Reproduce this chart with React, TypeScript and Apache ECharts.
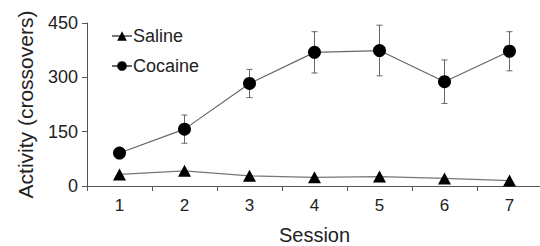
import React, { useEffect, useRef } from "react";
import * as echarts from "echarts";

const sessions = ["1", "2", "3", "4", "5", "6", "7"];
const salineValues = [32, 42, 28, 24, 26, 21, 15];
const cocaineValues = [91, 157, 283, 369, 374, 288, 372];
const cocaineErrors = [10, 39, 39, 57, 70, 60, 54];
const yTicks = [0, 150, 300, 450];

const FONT = "'Liberation Sans', Arial, sans-serif";
const TEXT = "#222";
const AXIS = "#555";

export default function App() {
  const ref = useRef<HTMLDivElement>(null);
  useEffect(() => {
    if (!ref.current) return;
    const chart = echarts.init(ref.current, null, { renderer: "svg" });
    const errData = cocaineValues.map((v, i) => [i, v, cocaineErrors[i]]);
    chart.setOption({
      animation: false,
      textStyle: { fontFamily: FONT },
      grid: {
        left: 87,
        top: 23,
        height: 163,
        width: 455,
        containLabel: false,
        outerBoundsMode: "none",
      },
      legend: {
        orient: "vertical",
        left: 106,
        top: 22,
        itemGap: 12,
        itemWidth: 20,
        itemHeight: 12,
        data: ["Saline", "Cocaine"],
        textStyle: { fontSize: 18, color: TEXT, fontFamily: FONT, padding: [0, 0, 0, -4] },
      },
      xAxis: {
        type: "category",
        data: sessions,
        boundaryGap: true,
        name: "Session",
        nameLocation: "middle",
        nameGap: 39,
        nameTextStyle: { fontSize: 20, color: TEXT, fontFamily: FONT },
        axisLine: { lineStyle: { color: AXIS, width: 1 } },
        axisTick: { show: true, length: 5, alignWithLabel: false, lineStyle: { color: AXIS } },
        axisLabel: { fontSize: 17, color: TEXT, margin: 11, fontFamily: FONT },
        splitLine: { show: false },
      },
      yAxis: {
        type: "value",
        min: yTicks[0],
        max: yTicks[yTicks.length - 1],
        interval: 150,
        name: "Activity (crossovers)",
        nameLocation: "middle",
        nameGap: 51,
        nameTextStyle: { fontSize: 21, color: TEXT, fontFamily: FONT },
        axisLine: { show: true, lineStyle: { color: AXIS, width: 1 } },
        axisTick: { show: true, length: 5, lineStyle: { color: AXIS } },
        axisLabel: { fontSize: 18, color: TEXT, margin: 9, fontFamily: FONT },
        splitLine: { show: false },
      },
      series: [
        {
          name: "Saline",
          type: "line",
          data: salineValues,
          symbol: "triangle",
          symbolSize: [13, 12],
          lineStyle: { color: "#777", width: 1.2 },
          itemStyle: { color: "#000" },
          z: 3,
        },
        {
          name: "Cocaine errors",
          type: "custom",
          data: errData,
          z: 1,
          renderItem: (params: any, api: any) => {
            const idx = api.value(0);
            const v = api.value(1);
            const e = api.value(2);
            const top = api.coord([idx, v + e]);
            const bot = api.coord([idx, v - e]);
            const cap = 3;
            const style = { stroke: "#666", lineWidth: 1 };
            return {
              type: "group",
              children: [
                { type: "line", shape: { x1: top[0], y1: top[1], x2: bot[0], y2: bot[1] }, style },
                { type: "line", shape: { x1: top[0] - cap, y1: top[1], x2: top[0] + cap, y2: top[1] }, style },
                { type: "line", shape: { x1: bot[0] - cap, y1: bot[1], x2: bot[0] + cap, y2: bot[1] }, style },
              ],
            };
          },
        },
        {
          name: "Cocaine",
          type: "line",
          data: cocaineValues,
          symbol: "circle",
          symbolSize: 13,
          lineStyle: { color: "#666", width: 1.2 },
          itemStyle: { color: "#000" },
          z: 3,
        },
      ],
    });
    return () => chart.dispose();
  }, []);
  return (
    <div
      ref={ref}
      style={{ position: "absolute", left: 0, top: 0, width: 540, height: 246, background: "#fff" }}
    />
  );
}
